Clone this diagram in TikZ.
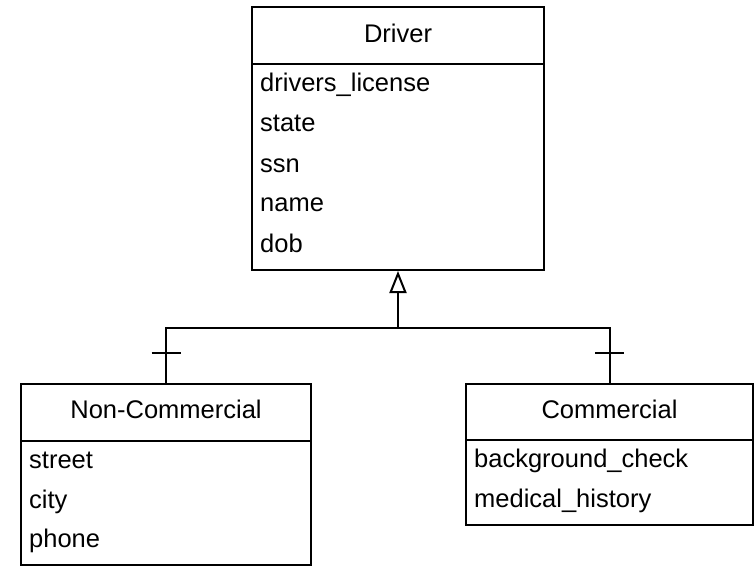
\documentclass[tikz,border=0pt]{standalone}
\usepackage{fontspec}
\setmainfont{Liberation Sans}
\usetikzlibrary{arrows.meta}

\tikzset{
  classbox/.style={draw, line width=2pt, inner sep=0pt},
  title/.style={anchor=base, inner sep=0pt, font=\fontsize{25.5}{30}\selectfont},
  attr/.style={anchor=base west, inner sep=0pt, font=\fontsize{25.5}{30}\selectfont},
  link/.style={line width=2pt}
}

\begin{document}
\begin{tikzpicture}[x=1pt,y=-1pt]
  \useasboundingbox (0,0) rectangle (754,566);
  % boxes
  \node[classbox, minimum width=292pt, minimum height=263pt](driver) at (398,138.5){};
  \node[classbox, minimum width=290pt, minimum height=181pt](noncom) at (166,474.5){};
  \node[classbox, minimum width=287pt, minimum height=141pt](com) at (609.5,454.5){};
  \draw[link]([yshift=-58pt]driver.north west)--([yshift=-58pt]driver.north east);
  \draw[link]([yshift=-58pt]noncom.north west)--([yshift=-58pt]noncom.north east);
  \draw[link]([yshift=-57pt]com.north west)--([yshift=-57pt]com.north east);
  % texts
  \node[title](driverT) at (398,42){Driver};
  \node[attr](d1) at (260,91){drivers\_license};
  \node[attr](d2) at (260,131){state};
  \node[attr](d3) at (260,172){ssn};
  \node[attr](d4) at (260,211){name};
  \node[attr](d5) at (260,252){dob};
  \node[title](noncomT) at (166,418){Non-Commercial};
  \node[attr](n1) at (29,468){street};
  \node[attr](n2) at (29,508){city};
  \node[attr](n3) at (29,547){phone};
  \node[title](comT) at (609.5,418){Commercial};
  \node[attr](c1) at (474,467){background\_check};
  \node[attr](c2) at (474,507){medical\_history};
  % inheritance
  \coordinate(bus) at (398,328);
  \draw[link](noncom.north)|-(bus)-|(com.north);
  \draw[link,-{Triangle[open,length=22pt,width=17pt]}](bus)--(driver.south);
  \draw[link]([xshift=-14.5pt,yshift=30pt]noncom.north)--++(29,0);
  \draw[link]([xshift=-14.5pt,yshift=30pt]com.north)--++(29,0);
\end{tikzpicture}
\end{document}
